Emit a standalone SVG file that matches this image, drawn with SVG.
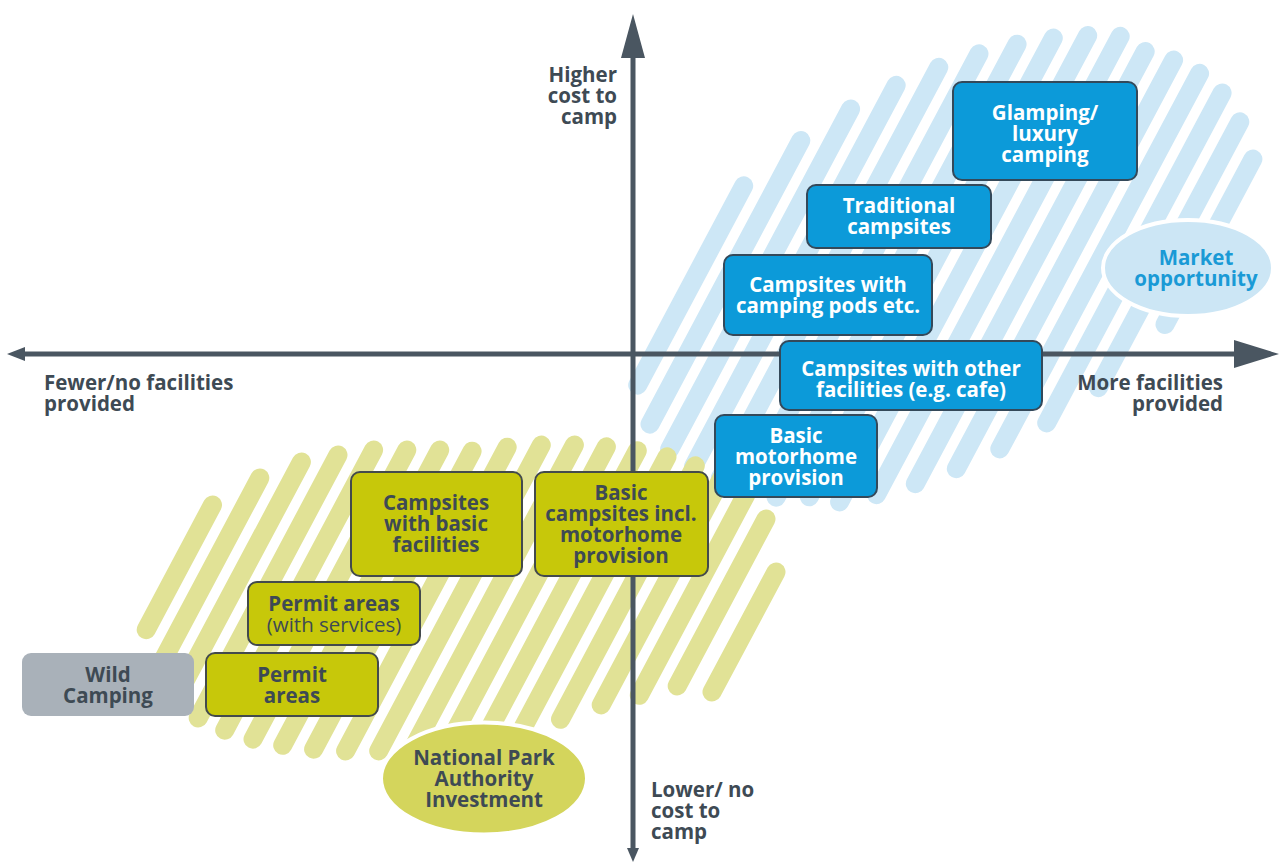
<svg xmlns="http://www.w3.org/2000/svg" width="1279" height="864" viewBox="0 0 1279 864">
<defs>
<style>
.bs{stroke:#cde7f6;stroke-width:19;stroke-linecap:round;fill:none}
.ys{stroke:#e1e296;stroke-width:19;stroke-linecap:round;fill:none}
.ax{stroke:#4a5661;stroke-width:5;fill:none}
.ah{fill:#4a5661}
.t{font-family:"Open Sans","Noto Sans","Liberation Sans",sans-serif;font-weight:700;font-size:20.5px}
.tr{font-family:"Open Sans","Noto Sans","Liberation Sans",sans-serif;font-weight:400;font-size:20.5px}
.w{fill:#ffffff}
.d{fill:#3e4a54}
.m{fill:#1a9ad6}
.c{text-anchor:middle}
.e{text-anchor:end}
.bb{fill:#0c9ad9;stroke:#34495a;stroke-width:2}
.yb{fill:#c7c80a;stroke:#434a4c;stroke-width:2}
.gb{fill:#a9b1b9}
</style>
</defs>
<rect width="1279" height="864" fill="#ffffff"/>
<g id="stripes-blue">
<line class="bs" x1="743.7" y1="185.9" x2="637.7" y2="385.1"/>
<line class="bs" x1="800.8" y1="140.5" x2="650" y2="424.1"/>
<line class="bs" x1="850.6" y1="109" x2="669.6" y2="449.2"/>
<line class="bs" x1="896.2" y1="85.3" x2="693.5" y2="466.4"/>
<line class="bs" x1="938.8" y1="67.3" x2="720.3" y2="478"/>
<line class="bs" x1="979" y1="53.8" x2="749.5" y2="485.2"/>
<line class="bs" x1="1017.1" y1="44.2" x2="776.1" y2="497.2"/>
<line class="bs" x1="1053.3" y1="38.1" x2="809.3" y2="496.8"/>
<line class="bs" x1="1087.7" y1="35.5" x2="839.6" y2="501.9"/>
<line class="bs" x1="1120.2" y1="36.4" x2="876.5" y2="494.6"/>
<line class="bs" x1="1145.2" y1="51.5" x2="915.3" y2="483.7"/>
<line class="bs" x1="1173.6" y1="60.1" x2="956.3" y2="468.7"/>
<line class="bs" x1="1199.6" y1="73.4" x2="999.8" y2="448.9"/>
<line class="bs" x1="1222.1" y1="93" x2="1046.7" y2="422.9"/>
<line class="bs" x1="1239.8" y1="121.9" x2="1098.4" y2="387.6"/>
<line class="bs" x1="1252.9" y1="159.1" x2="1165" y2="324.5"/>
</g>
<g id="stripes-yellow">
<line class="ys" x1="212.5" y1="505" x2="146.2" y2="629.7"/>
<line class="ys" x1="259.8" y1="478" x2="154" y2="677"/>
<line class="ys" x1="301.4" y1="462" x2="174.1" y2="701.3"/>
<line class="ys" x1="338" y1="455" x2="198.2" y2="718"/>
<line class="ys" x1="373.6" y1="450" x2="224.7" y2="730.2"/>
<line class="ys" x1="406.8" y1="450" x2="253" y2="739.1"/>
<line class="ys" x1="439.7" y1="450" x2="282.7" y2="745.3"/>
<line class="ys" x1="472.1" y1="451.2" x2="313.6" y2="749.2"/>
<line class="ys" x1="507.2" y1="447.2" x2="345.6" y2="751"/>
<line class="ys" x1="541.3" y1="445.1" x2="378.7" y2="750.9"/>
<line class="ys" x1="574.4" y1="445" x2="412.8" y2="748.8"/>
<line class="ys" x1="606.4" y1="446.8" x2="447.9" y2="744.8"/>
<line class="ys" x1="637.3" y1="450.7" x2="484.2" y2="738.7"/>
<line class="ys" x1="667" y1="456.9" x2="521.6" y2="730.3"/>
<line class="ys" x1="695.3" y1="465.8" x2="560.5" y2="719.3"/>
<line class="ys" x1="721.8" y1="478" x2="601.2" y2="704.9"/>
<line class="ys" x1="745.9" y1="494.7" x2="639.3" y2="695.3"/>
<line class="ys" x1="766" y1="519" x2="677.2" y2="686"/>
<line class="ys" x1="776" y1="572" x2="712" y2="692"/>
</g>
<g id="connectors">
<line class="ax" x1="20" y1="354" x2="1236" y2="354"/>
<polygon class="ah" points="1279,354 1234,340 1234,368"/>
<polygon class="ah" points="7,354 25,347 25,361"/>
<line class="ax" x1="633" y1="55" x2="633" y2="850"/>
<polygon class="ah" points="633,14 621,58 645,58"/>
<polygon class="ah" points="633,862 627,848 639,848"/>
</g>
<g id="label-higher-cost" class="t d e">
<text x="617" y="82">Higher</text>
<text x="617" y="103">cost to</text>
<text x="617" y="124">camp</text>
</g>
<g id="label-fewer-facilities" class="t d">
<text x="44" y="390">Fewer/no facilities</text>
<text x="44" y="411">provided</text>
</g>
<g id="label-more-facilities" class="t d e">
<text x="1223" y="390">More facilities</text>
<text x="1223" y="411">provided</text>
</g>
<g id="label-lower-cost" class="t d">
<text x="651" y="797">Lower/ no</text>
<text x="651" y="818">cost to</text>
<text x="651" y="839">camp</text>
</g>
<g id="node-glamping">
<rect class="bb" x="953" y="82" width="184" height="98" rx="9"/>
<text class="t w c" x="1045" y="120">Glamping/</text>
<text class="t w c" x="1045" y="141">luxury</text>
<text class="t w c" x="1045" y="162">camping</text>
</g>
<g id="node-traditional">
<rect class="bb" x="807" y="185" width="184" height="63" rx="9"/>
<text class="t w c" x="899" y="213">Traditional</text>
<text class="t w c" x="899" y="234">campsites</text>
</g>
<g id="node-pods">
<rect class="bb" x="724" y="255" width="208" height="80" rx="9"/>
<text class="t w c" x="828" y="292">Campsites with</text>
<text class="t w c" x="828" y="313">camping pods etc.</text>
</g>
<g id="node-other-facilities">
<rect class="bb" x="780" y="341" width="262" height="69" rx="9"/>
<text class="t w c" x="911" y="376">Campsites with other</text>
<text class="t w c" x="911" y="397">facilities (e.g. cafe)</text>
</g>
<g id="node-basic-motorhome">
<rect class="bb" x="715" y="415" width="162" height="82" rx="9"/>
<text class="t w c" x="796" y="443">Basic</text>
<text class="t w c" x="796" y="464">motorhome</text>
<text class="t w c" x="796" y="485">provision</text>
</g>
<g id="node-market-opportunity">
<ellipse cx="1188" cy="268" rx="85" ry="48" fill="#cce6f5" stroke="#ffffff" stroke-width="4"/>
<text class="t m c" x="1196" y="265">Market</text>
<text class="t m c" x="1196" y="286">opportunity</text>
</g>
<g id="node-basic-facilities">
<rect class="yb" x="351" y="472" width="171" height="104" rx="9"/>
<text class="t d c" x="436" y="510">Campsites</text>
<text class="t d c" x="436" y="531">with basic</text>
<text class="t d c" x="436" y="552">facilities</text>
</g>
<g id="node-basic-campsites">
<rect class="yb" x="535" y="472" width="173" height="104" rx="9"/>
<text class="t d c" x="621" y="500">Basic</text>
<text class="t d c" x="621" y="521">campsites incl.</text>
<text class="t d c" x="621" y="542">motorhome</text>
<text class="t d c" x="621" y="563">provision</text>
</g>
<g id="node-permit-services">
<rect class="yb" x="248" y="582" width="172" height="63" rx="9"/>
<text class="t d c" x="334" y="611">Permit areas</text>
<text class="tr d c" x="334" y="632">(with services)</text>
</g>
<g id="node-permit-areas">
<rect class="yb" x="206" y="653" width="172" height="63" rx="9"/>
<text class="t d c" x="292" y="682">Permit</text>
<text class="t d c" x="292" y="703">areas</text>
</g>
<g id="node-wild-camping">
<rect class="gb" x="22" y="653" width="172" height="63" rx="9"/>
<text class="t d c" x="108" y="682">Wild</text>
<text class="t d c" x="108" y="703">Camping</text>
</g>
<g id="node-npa-investment">
<ellipse cx="484" cy="778.5" rx="103" ry="56" fill="#d4d55c" stroke="#ffffff" stroke-width="4"/>
<text class="t d c" x="484" y="765">National Park</text>
<text class="t d c" x="484" y="786">Authority</text>
<text class="t d c" x="484" y="807">Investment</text>
</g>
</svg>
